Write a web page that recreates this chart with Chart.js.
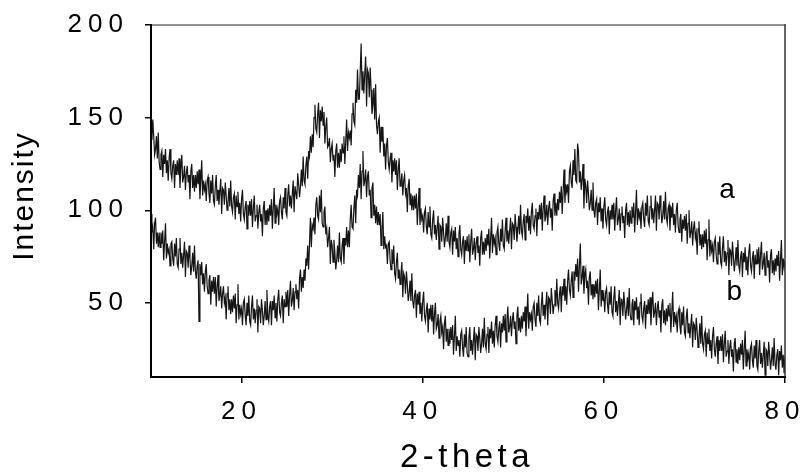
<!DOCTYPE html>
<html>
<head>
<meta charset="utf-8">
<script src="https://cdn.jsdelivr.net/npm/chart.js@4.4.0/dist/chart.umd.min.js"></script>
<style>
html, body { margin: 0; padding: 0; background: #fff; }
canvas { display: block; }
</style>
</head>
<body>
<canvas id="xrd" width="803" height="472"></canvas>
<script>
"use strict";

// scan range: 2-theta 10..80, step 0.1
const thetaStart = 10;
const thetaStep = 0.1;
const xTicks = [20, 40, 60, 80];
const yTicks = [50, 100, 150, 200];
const seriesNames = ['a', 'b'];
const xTitle = '2-theta';
const yTitle = 'Intensity';

// curve a (one row = one degree)
const intensityA = [
    148,138,149,140,130,133,140,128,142,126,   // 10
    122,130,132,118,130,125,133,120,127,116,   // 11
    128,133,120,117,124,127,112,125,119,127,   // 12
    119,128,112,123,130,115,118,124,111,120,   // 13
    124,115,119,106,121,125,112,119,110,119,   // 14
    112,121,114,122,106,116,127,108,116,111,   // 15
    114,105,116,118,109,104,116,109,119,105,   // 16
    103,113,119,105,111,103,110,117,98,112,    // 17
    111,103,115,108,100,104,112,102,116,102,   // 18
    99,107,109,95,108,102,110,98,104,94,       // 19
    106,111,98,95,102,105,90,103,97,105,       // 20
    97,106,91,101,108,94,97,103,90,99,         // 21
    103,94,98,86,101,105,92,100,92,101,        // 22
    94,103,97,106,90,101,112,93,103,98,        // 23
    101,92,105,107,99,95,107,101,112,99,       // 24
    97,108,114,102,108,101,109,116,99,113,     // 25
    113,106,120,114,107,113,122,113,129,116,   // 26
    114,124,129,117,132,129,140,131,141,134,   // 27
    150,157,144,142,152,158,139,154,148,156,   // 28
    146,153,136,145,150,134,135,139,126,133,   // 29
    136,127,130,118,132,136,123,131,123,133,   // 30
    126,136,131,140,125,137,149,132,142,139,   // 31
    143,135,152,158,148,146,165,158,176,160,   // 32
    160,175,190,165,175,163,174,183,156,176,   // 33
    174,161,177,165,152,157,166,149,168,146,   // 34
    141,148,150,131,145,137,145,129,136,122,   // 35
    135,139,126,122,128,131,115,127,121,128,   // 36
    119,127,111,122,128,113,115,120,108,116,   // 37
    119,109,112,99,113,117,103,109,100,108,    // 38
    100,108,101,109,92,102,112,92,101,95,      // 39
    97,88,99,101,91,87,99,91,102,87,           // 40
    85,95,100,87,92,84,91,97,79,92,            // 41
    91,83,96,88,80,85,93,83,97,83,             // 42
    80,88,90,76,89,83,91,79,85,75,             // 43
    87,92,79,76,83,86,71,84,78,86,             // 44
    78,87,72,83,90,76,79,85,73,82,             // 45
    86,77,81,70,85,89,76,83,76,85,             // 46
    78,87,81,90,74,85,96,77,87,82,             // 47
    85,76,88,91,82,78,90,83,95,81,             // 48
    79,89,96,83,89,82,89,96,79,93,             // 49
    92,84,98,91,83,89,97,87,103,89,            // 50
    86,94,98,84,97,93,101,89,97,87,            // 51
    99,104,92,90,97,101,86,99,95,103,          // 52
    95,104,89,101,108,94,97,103,92,101,        // 53
    105,96,101,89,105,109,97,104,97,106,       // 54
    100,110,104,113,98,110,122,104,114,110,    // 55
    114,104,121,124,115,112,127,119,133,116,   // 56
    115,136,132,115,121,111,117,125,101,117,   // 57
    113,104,116,109,100,104,111,100,115,100,   // 58
    96,104,106,92,104,99,107,94,101,90,        // 59
    102,107,95,92,99,102,87,100,95,103,        // 60
    95,104,89,100,107,92,95,101,89,98,         // 61
    102,93,97,85,100,104,92,99,91,100,         // 62
    93,102,96,104,88,99,111,92,101,96,         // 63
    99,90,102,104,95,91,104,97,108,94,         // 64
    92,102,108,95,101,93,100,108,89,104,       // 65
    103,95,108,101,93,97,105,95,110,96,        // 66
    93,101,103,89,102,96,104,92,98,88,         // 67
    100,104,92,88,95,98,83,95,90,97,           // 68
    89,98,82,93,100,85,88,94,81,90,            // 69
    94,85,88,76,90,94,81,87,79,87,             // 70
    80,89,82,90,73,84,95,75,84,78,             // 71
    81,72,83,85,76,71,83,76,86,72,             // 72
    70,80,86,72,78,70,77,84,65,79,             // 73
    78,70,83,75,67,72,80,70,84,70,             // 74
    67,75,78,64,77,72,80,68,75,65,             // 75
    77,82,70,67,74,78,63,76,71,79,             // 76
    71,80,65,76,83,68,71,77,65,74,             // 77
    78,69,73,61,76,79,66,73,65,74,             // 78
    67,76,70,78,62,73,84,65,74,69,             // 79
    73                                         // 80
];

// curve b
const intensityB = [
    98,88,91,79,93,96,82,88,80,88,             // 10
    80,88,82,89,73,83,93,74,82,77,             // 11
    79,70,82,83,74,70,82,75,85,71,             // 12
    69,79,85,71,77,69,76,83,64,78,             // 13
    77,69,81,74,65,70,77,67,81,67,             // 14
    63,70,73,40,71,65,72,60,66,56,             // 15
    67,71,59,55,62,65,49,62,56,64,             // 16
    55,64,48,59,65,51,54,59,47,55,             // 17
    59,50,53,41,55,59,46,52,44,52,             // 18
    45,54,47,55,39,49,60,41,49,44,             // 19
    47,38,50,52,43,38,50,43,54,40,             // 20
    38,48,54,41,47,39,46,52,34,48,             // 21
    47,39,52,46,38,43,51,41,57,43,             // 22
    40,48,51,38,51,46,54,42,50,40,             // 23
    52,57,45,43,50,54,39,52,48,56,             // 24
    48,57,43,54,62,48,51,58,46,56,             // 25
    60,52,57,47,63,68,56,64,58,68,             // 26
    62,74,70,81,68,82,96,80,92,90,             // 27
    96,87,103,107,97,95,108,99,111,93,         // 28
    91,99,102,87,90,80,85,91,71,84,            // 29
    81,72,84,77,68,73,81,72,88,74,             // 30
    72,81,85,71,85,81,91,80,89,80,             // 31
    95,103,91,90,101,108,93,111,108,119,       // 32
    112,125,106,121,132,113,116,122,107,118,   // 33
    121,108,111,96,112,115,97,103,93,102,      // 34
    92,99,92,98,81,90,99,79,86,80,             // 35
    81,71,82,83,73,68,79,71,81,66,             // 36
    63,72,77,63,68,60,66,72,53,66,             // 37
    64,55,67,60,51,55,62,51,66,51,             // 38
    47,54,57,42,55,49,56,44,50,40,             // 39
    51,56,43,40,46,50,34,47,41,49,             // 40
    40,49,33,44,50,36,38,44,31,40,             // 41
    43,34,37,25,39,43,29,36,27,36,             // 42
    28,37,30,38,22,32,43,24,32,27,             // 43
    30,21,33,35,26,21,33,26,37,23,             // 44
    21,31,37,24,30,22,30,37,19,33,             // 45
    32,24,37,31,23,28,36,26,42,28,             // 46
    25,33,37,23,36,31,40,28,35,26,             // 47
    38,43,32,29,36,40,26,39,34,43,             // 48
    35,44,29,41,48,34,37,43,32,41,             // 49
    45,36,40,28,43,48,35,42,34,43,             // 50
    36,45,40,48,32,43,55,36,45,41,             // 51
    44,35,48,50,41,37,50,43,54,41,             // 52
    39,49,56,43,49,41,49,56,38,53,             // 53
    52,44,58,51,44,49,57,48,63,50,             // 54
    47,55,59,45,59,54,63,51,59,49,             // 55
    62,68,57,54,62,67,53,67,62,71,             // 56
    64,74,56,70,82,60,64,70,55,65,             // 57
    68,58,62,49,64,67,54,60,52,60,             // 58
    53,62,55,63,46,57,68,48,57,51,             // 59
    54,45,56,58,49,44,56,49,59,45,             // 60
    43,53,59,45,51,43,50,57,38,52,             // 61
    51,43,56,49,41,46,53,43,58,44,             // 62
    41,49,52,38,51,46,53,41,48,38,             // 63
    50,55,43,40,47,51,36,49,44,52,             // 64
    44,53,38,49,56,42,45,50,38,47,             // 65
    51,42,46,34,49,52,39,46,38,47,             // 66
    40,49,43,50,34,45,56,37,45,40,             // 67
    43,34,45,47,38,33,45,38,48,34,             // 68
    32,42,47,34,39,31,38,44,26,39,             // 69
    38,30,42,35,26,31,39,28,43,28,             // 70
    25,33,35,21,34,28,36,24,30,20,             // 71
    32,37,25,21,28,32,17,30,24,32,             // 72
    24,33,18,28,35,21,24,30,17,26,             // 73
    30,21,25,13,28,31,18,25,17,26,             // 74
    19,28,22,30,14,25,35,16,25,20,             // 75
    23,14,26,28,19,15,27,20,30,16,             // 76
    14,24,30,17,23,15,22,29,11,25,             // 77
    24,16,29,22,14,19,26,16,31,17,             // 78
    14,22,25,11,24,19,27,15,22,12,             // 79
    21                                         // 80
];

// where the a / b marks sit (data coordinates of the glyph baseline centre)
const markAt = [[73.6, 106.5], [74.4, 51.5]];

const twoTheta = intensityA.map((v, i) => +(thetaStart + i * thetaStep).toFixed(1));
const toPoints = arr => arr.map((v, i) => ({ x: twoTheta[i], y: v }));

const FONT = "'Liberation Sans', Arial, sans-serif";

// frame, axis titles and curve marks
const decor = {
    id: 'decor',
    beforeDraw(chart) {
        // tick labels in the scan are widely spaced
        chart.ctx.letterSpacing = '6px';
    },
    afterDatasetsDraw(chart) {
        const { ctx, chartArea: a, scales } = chart;
        ctx.save();
        ctx.lineCap = 'square';
        ctx.lineWidth = 1.5;
        ctx.strokeStyle = '#6b6b6b';
        ctx.beginPath();
        ctx.moveTo(a.left, a.top);
        ctx.lineTo(a.right, a.top);
        ctx.stroke();
        ctx.strokeStyle = '#333';
        ctx.beginPath();
        ctx.moveTo(a.right, a.top);
        ctx.lineTo(a.right, a.bottom);
        ctx.stroke();
        ctx.lineWidth = 2;
        ctx.strokeStyle = '#000';
        ctx.beginPath();
        ctx.moveTo(a.left, a.top);
        ctx.lineTo(a.left, a.bottom);
        ctx.lineTo(a.right, a.bottom);
        ctx.stroke();

        ctx.fillStyle = '#000';
        ctx.textAlign = 'center';
        ctx.textBaseline = 'alphabetic';
        ctx.letterSpacing = '0px';
        ctx.font = '28px ' + FONT;
        seriesNames.forEach((name, i) => {
            const px = scales.x.getPixelForValue(markAt[i][0]);
            const py = scales.y.getPixelForValue(markAt[i][1]);
            ctx.fillText(name, px, py);
        });

        ctx.letterSpacing = '4.5px';
        ctx.font = '33px ' + FONT;
        ctx.fillText(xTitle, (a.left + a.right) / 2 - 1, 467);
        ctx.translate(33, 196);
        ctx.rotate(-Math.PI / 2);
        ctx.letterSpacing = '2px';
        ctx.font = '30px ' + FONT;
        ctx.fillText(yTitle, 0, 0);
        ctx.restore();
    }
};

const lineStyle = {
    borderColor: '#151515',
    borderWidth: 1.2,
    pointRadius: 0,
    tension: 0,
    fill: false
};

new Chart(document.getElementById('xrd'), {
    type: 'line',
    data: {
        datasets: [
            Object.assign({ label: seriesNames[0], data: toPoints(intensityA) }, lineStyle),
            Object.assign({ label: seriesNames[1], data: toPoints(intensityB) }, lineStyle)
        ]
    },
    options: {
        responsive: false,
        animation: false,
        devicePixelRatio: 1,
        layout: { padding: { left: 0, top: 25, right: 18, bottom: 0 } },
        plugins: {
            legend: { display: false },
            tooltip: { enabled: false }
        },
        scales: {
            x: {
                type: 'linear',
                min: 10,
                max: 80,
                afterBuildTicks: scale => { scale.ticks = xTicks.map(v => ({ value: v })); },
                afterFit: scale => {
                    scale.height = 95;
                    scale.paddingLeft = 0;
                    scale.paddingRight = 0;
                },
                border: { display: false },
                grid: { drawOnChartArea: false, tickLength: 6, color: '#000', lineWidth: 1.5 },
                ticks: { color: '#000', font: { family: FONT, size: 26 }, padding: 13, maxRotation: 0 }
            },
            y: {
                min: 10,
                max: 200,
                afterBuildTicks: scale => { scale.ticks = yTicks.map(v => ({ value: v })); },
                afterFit: scale => {
                    scale.width = 151;
                    scale.paddingTop = 0;
                    scale.paddingBottom = 0;
                },
                border: { display: false },
                grid: { drawOnChartArea: false, tickLength: 6, color: '#000', lineWidth: 1.5 },
                ticks: { color: '#000', font: { family: FONT, size: 26 }, padding: 16 }
            }
        }
    },
    plugins: [decor]
});
</script>
</body>
</html>
